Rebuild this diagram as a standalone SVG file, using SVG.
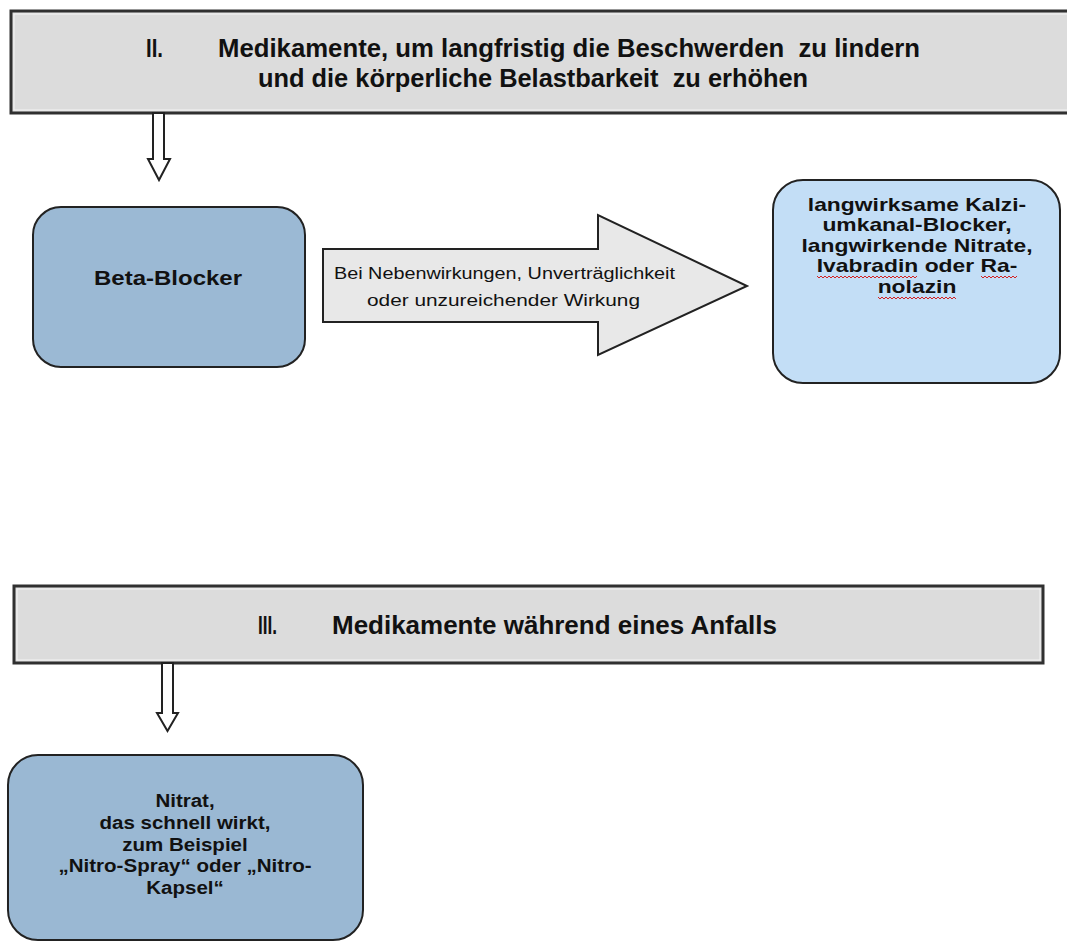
<svg xmlns="http://www.w3.org/2000/svg" width="1067" height="944" viewBox="0 0 1067 944">
<style>
.hdr{fill:#dcdcdc;stroke:#303030;stroke-width:3}
.hdrin{fill:none;stroke:#f4f4f4;stroke-width:1}
.ht{font-family:"Liberation Sans",Arial,sans-serif;font-weight:bold;font-size:26px;fill:#111;white-space:pre}
.box{stroke:#222;stroke-width:2}
.bt{font-family:"Liberation Sans",Arial,sans-serif;font-weight:bold;fill:#111;text-anchor:middle}
.at{font-family:"Liberation Sans",Arial,sans-serif;font-size:16px;fill:#111}
.dn{fill:#fff;stroke:#222;stroke-width:2;stroke-linejoin:miter}
.wavy{fill:none;stroke:#d42020;stroke-width:1}
</style>
<rect width="1067" height="944" fill="#fff"/>

<g id="header2">
<rect class="hdr" x="11" y="11" width="1070" height="102"/>
<rect class="hdrin" x="14" y="14" width="1070" height="96"/>
<text class="ht" x="146" y="57" textLength="17" lengthAdjust="spacingAndGlyphs">II.</text>
<text class="ht" x="218" y="57" textLength="702" lengthAdjust="spacingAndGlyphs">Medikamente, um langfristig die Beschwerden  zu lindern</text>
<text class="ht" x="258" y="87" textLength="550" lengthAdjust="spacingAndGlyphs">und die körperliche Belastbarkeit  zu erhöhen</text>
</g>

<g id="betablocker">
<rect class="box" x="33" y="207" width="272" height="160" rx="28" fill="#9bb9d4"/>
<g transform="translate(168,0) scale(1.2,1)"><text class="bt" x="0" y="285" font-size="20">Beta-Blocker</text></g>
</g>

<g id="alternativen">
<rect class="box" x="773" y="180" width="287" height="203" rx="30" fill="#c3def6"/>
<g transform="translate(917,0) scale(1.27,1)">
<text class="bt" font-size="18" x="0" y="211">langwirksame Kalzi-</text>
<text class="bt" font-size="18" x="0" y="231.5">umkanal-Blocker,</text>
<text class="bt" font-size="18" x="0" y="252">langwirkende Nitrate,</text>
<text class="bt" font-size="18" x="0" y="272.5">Ivabradin oder Ra-</text>
<text class="bt" font-size="18" x="0" y="293">nolazin</text>
</g>
<polyline class="wavy" points="817,276 819,278 821,276 823,278 825,276 827,278 829,276 831,278 833,276 835,278 837,276 839,278 841,276 843,278 845,276 847,278 849,276 851,278 853,276 855,278 857,276 859,278 861,276 863,278 865,276 867,278 869,276 871,278 873,276 875,278 877,276 879,278 881,276 883,278 885,276 887,278 889,276 891,278 893,276 895,278 897,276 899,278 901,276 903,278 905,276 907,278 909,276 911,278 913,276 915,278 917,276"/>
<polyline class="wavy" points="981,276 983,278 985,276 987,278 989,276 991,278 993,276 995,278 997,276 999,278 1001,276 1003,278 1005,276 1007,278 1009,276 1011,278 1013,276 1015,278 1017,276"/>
<polyline class="wavy" points="878,297 880,299 882,297 884,299 886,297 888,299 890,297 892,299 894,297 896,299 898,297 900,299 902,297 904,299 906,297 908,299 910,297 912,299 914,297 916,299 918,297 920,299 922,297 924,299 926,297 928,299 930,297 932,299 934,297 936,299 938,297 940,299 942,297 944,299 946,297 948,299 950,297 952,299 954,297 956,299"/>
</g>

<g id="header3">
<rect class="hdr" x="14" y="586" width="1029" height="77"/>
<rect class="hdrin" x="17" y="589" width="1023" height="71"/>
<text class="ht" x="258" y="634" textLength="19" lengthAdjust="spacingAndGlyphs">III.</text>
<text class="ht" x="332" y="634" textLength="445" lengthAdjust="spacingAndGlyphs">Medikamente während eines Anfalls</text>
</g>

<g id="nitrat">
<rect class="box" x="8" y="755" width="355" height="185" rx="30" fill="#9ab8d3"/>
<g transform="translate(185,0) scale(1.08,1)">
<text class="bt" font-size="19" x="0" y="807">Nitrat,</text>
<text class="bt" font-size="19" x="0" y="829">das schnell wirkt,</text>
<text class="bt" font-size="19" x="0" y="851">zum Beispiel</text>
<text class="bt" font-size="19" x="0" y="872">„Nitro-Spray“ oder „Nitro-</text>
<text class="bt" font-size="19" x="0" y="894">Kapsel“</text>
</g>
</g>

<g id="connectors">
<polygon class="dn" points="153,113 164,113 164,159 170,159 159,180 148,159 153,159"/>
<g id="bigarrow">
<polygon points="323,249 598,249 598,215 747,286 598,355 598,322 323,322" fill="#e8e8e8" stroke="#222" stroke-width="2"/>
<text class="at" x="334" y="279" textLength="341" lengthAdjust="spacingAndGlyphs">Bei Nebenwirkungen, Unverträglichkeit</text>
<text class="at" x="367" y="306" textLength="273" lengthAdjust="spacingAndGlyphs">oder unzureichender Wirkung</text>
</g>
<polygon class="dn" points="162,663 173,663 173,713 178,713 167.5,731 157,713 162,713"/>
</g>
</svg>
